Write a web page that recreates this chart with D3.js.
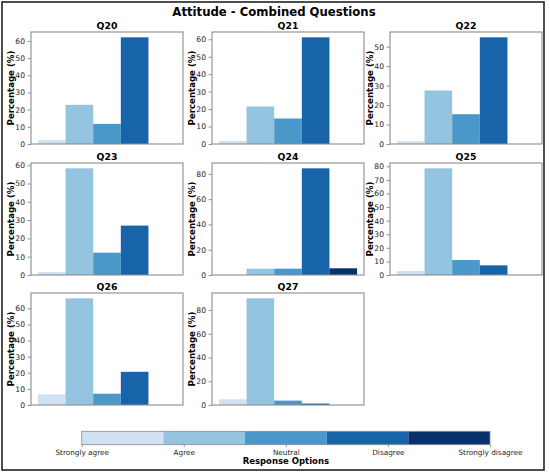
<!DOCTYPE html>
<html>
<head>
<meta charset="utf-8">
<script src="https://cdn.jsdelivr.net/npm/d3@7"></script>
<style>
  body { margin: 0; background: #fff; }
  svg { font-family: "DejaVu Sans", sans-serif; }
</style>
</head>
<body>
<main></main>
<script>
const width = 550;
const height = 476;

// data
const questions = ['Q20', 'Q21', 'Q22', 'Q23', 'Q24', 'Q25', 'Q26', 'Q27'];
const categories = ['Strongly agree', 'Agree', 'Neutral', 'Disagree', 'Strongly disagree'];
const q20 = [2.3, 22.8, 11.7, 62.1, 0];
const q21 = [1.7, 21.5, 14.6, 61.1, 0];
const q22 = [1.4, 27.5, 15.3, 54.8, 0];
const q23 = [1.6, 58.3, 12.2, 27.0, 0];
const q24 = [0, 5.0, 5.0, 84.4, 5.3];
const q25 = [2.9, 78.5, 11.0, 7.1, 0];
const q26 = [6.6, 66.2, 7.0, 20.6, 0];
const q27 = [4.8, 89.8, 3.7, 1.2, 0];
const seriesValues = [q20, q21, q22, q23, q24, q25, q26, q27];

const colors = ['#d0e1f2', '#94c4df', '#4a98c9', '#1764ab', '#08306b'];

const colLefts = [31, 212, 390];
const rowTops = [32, 163, 293];
const panelW = 152;
const panelH = 112;

const createCanvas = () => {
    return d3.select('main')
             .append('svg')
             .attr('width', width)
             .attr('height', height);
};

const svg = createCanvas();

// figure frame
svg.append('rect')
   .attr('x', 2).attr('y', 2)
   .attr('width', 542).attr('height', 468)
   .attr('fill', 'none')
   .attr('stroke', '#222')
   .attr('stroke-width', 1.6);

svg.append('text')
   .attr('x', 274).attr('y', 16)
   .attr('text-anchor', 'middle')
   .attr('font-weight', 'bold')
   .attr('font-size', '11.7px')
   .attr('fill', '#000')
   .text('Attitude - Combined Questions');

const drawPanel = (name, values, i) => {
    const left = colLefts[i % 3];
    const top = rowTops[Math.floor(i / 3)];
    const g = svg.append('g').attr('transform', 'translate(' + left + ',' + top + ')');

    const xScale = d3.scaleLinear().domain([-0.75, categories.length - 0.25]).range([0, panelW]);
    const yScale = d3.scaleLinear().domain([0, d3.max(values) * 1.05]).range([panelH, 0]);

    g.selectAll('rect.bar')
     .data(values)
     .enter()
     .append('rect')
     .attr('class', 'bar')
     .attr('x', (d, j) => xScale(j - 0.5))
     .attr('width', (d, j) => xScale(j + 0.5) - xScale(j - 0.5))
     .attr('y', (d) => yScale(d))
     .attr('height', (d) => panelH - yScale(d))
     .attr('fill', (d, j) => colors[j]);

    const yAxis = g.append('g')
                   .call(d3.axisLeft(yScale).ticks(6).tickSize(3.5).tickPadding(2.5));
    yAxis.select('.domain').remove();
    yAxis.selectAll('line').attr('stroke', '#777').attr('stroke-width', 0.8);
    yAxis.selectAll('text')
         .attr('font-size', '7.6px')
         .attr('fill', '#262626')
         .attr('font-family', '"DejaVu Sans", sans-serif');

    g.append('rect')
     .attr('width', panelW).attr('height', panelH)
     .attr('fill', 'none')
     .attr('stroke', '#8c8c8c')
     .attr('stroke-width', 1.1);

    g.append('text')
     .attr('x', panelW / 2).attr('y', -3.5)
     .attr('text-anchor', 'middle')
     .attr('font-weight', 'bold')
     .attr('font-size', '9.3px')
     .text(name);

    g.append('text')
     .attr('transform', 'translate(-20,' + (panelH / 2) + ') rotate(-90)')
     .attr('dy', '0.35em')
     .attr('text-anchor', 'middle')
     .attr('font-weight', 'bold')
     .attr('font-size', '8.6px')
     .text('Percentage (%)');
};

questions.forEach((q, i) => drawPanel(q, seriesValues[i], i));

// colour bar legend
const cbLeft = 81.7, cbRight = 490, cbTop = 431.3, cbH = 13.4;
const bandScale = d3.scaleBand().domain(categories).range([cbLeft, cbRight]);
const tickScale = d3.scaleLinear().domain([0, categories.length - 1]).range([cbLeft, cbRight]);
const legend = svg.append('g');

legend.selectAll('rect.seg')
      .data(categories)
      .enter()
      .append('rect')
      .attr('class', 'seg')
      .attr('x', (d) => bandScale(d))
      .attr('y', cbTop)
      .attr('width', bandScale.bandwidth())
      .attr('height', cbH)
      .attr('fill', (d, j) => colors[j]);

legend.append('rect')
      .attr('x', cbLeft).attr('y', cbTop)
      .attr('width', cbRight - cbLeft).attr('height', cbH)
      .attr('fill', 'none')
      .attr('stroke', '#8c8c8c')
      .attr('stroke-width', 0.8);

const cbAxis = legend.append('g')
                     .attr('transform', 'translate(0,' + (cbTop + cbH) + ')')
                     .call(d3.axisBottom(tickScale)
                             .tickValues(d3.range(categories.length))
                             .tickFormat((d) => categories[d])
                             .tickSize(2.5)
                             .tickPadding(2.5));
cbAxis.select('.domain').remove();
cbAxis.selectAll('line').attr('stroke', '#777').attr('stroke-width', 0.7);
cbAxis.selectAll('text')
      .attr('font-size', '7.3px')
      .attr('fill', '#262626')
      .attr('font-family', '"DejaVu Sans", sans-serif');

legend.append('text')
      .attr('x', (cbLeft + cbRight) / 2).attr('y', 464)
      .attr('text-anchor', 'middle')
      .attr('font-weight', 'bold')
      .attr('font-size', '8.5px')
      .text('Response Options');
</script>
</body>
</html>
